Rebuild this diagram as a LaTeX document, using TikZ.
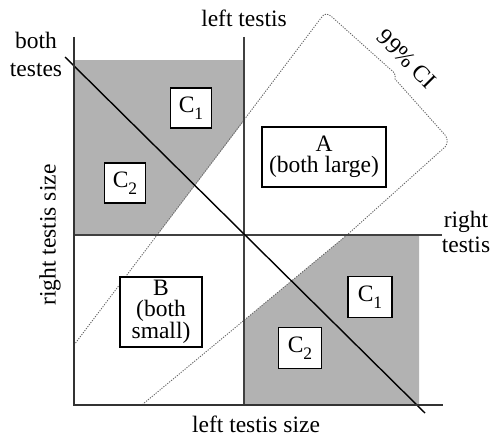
\documentclass[tikz,border=0pt]{standalone}
\usepackage{fontspec}
\setmainfont{Liberation Serif}
\newcommand{\subidx}[1]{\raisebox{-7pt}{\fontsize{17.5}{17.5}\selectfont #1}}
\begin{document}
\begin{tikzpicture}[x=1pt,y=-1pt,
  axis/.style={line width=2.2pt, draw=black!80},
  divider/.style={line width=1.6pt, draw=black!75},
  diag/.style={line width=1.4pt, draw=black},
  shaded/.style={fill=black!30},
  ci/.style={draw=black!60, line width=0.9pt, dash pattern=on 1.2pt off 1.3pt},
  region/.style={draw=black, line width=1.2pt, fill=white, inner sep=0pt,
    align=center, font=\fontsize{23.5}{21}\selectfont},
  lbl/.style={inner sep=0pt, align=center},
  lblfont/.style={font=\fontsize{23.5}{#1}\selectfont},
  lblfont/.default=27]
\useasboundingbox (0,0) rectangle (494,436);

% axis end points
\coordinate (origin) at (74,405);
\coordinate (ytop) at (74,37);
\coordinate (xend) at (443,405);
\coordinate (vtop) at (244,37);
\coordinate (vbot) at (244,405);
\coordinate (hleft) at (74,235);
\coordinate (hright) at (442,235);
\coordinate (dstart) at (65,57);
\coordinate (dend) at (425,413);

% shaded quadrants outside the confidence band
\fill[shaded] (74,60) -- (243,60) -- (243,122.2) -- (157.4,235) -- (74,235) -- cycle;
\fill[shaded] (244,320.4) -- (347,235) -- (419,235) -- (419,405) -- (244,405) -- cycle;

% 99% confidence band
\draw[ci] (74,345) -- (321,18) .. controls (324,13) and (328,13) .. (332,17)
  -- (390,69) .. controls (394,72) and (396,74) .. (395,79)
  -- (445,135) .. controls (448,139) and (448,143) .. (445,147)
  -- (347,235) -- (143,404);

% dividing lines and axes
\draw[divider] (vtop) -- (vbot);
\draw[divider] (hleft) -- (hright);
\draw[diag] (dstart) -- (dend);
\draw[axis] (ytop) -- (origin) -- (xend);

% region boxes
\node[region, minimum width=41pt, minimum height=40pt] (c1up) at (191,108) {C\subidx{1}};
\node[region, minimum width=41pt, minimum height=40pt] (c2up) at (125,183) {C\subidx{2}};
\node[region, minimum width=124pt, minimum height=60pt] (a) at (324,157) {A\\(both large)};
\node[region, minimum width=82pt, minimum height=70pt] (b) at (161,312) {B\\(both\\small)};
\node[region, minimum width=44pt, minimum height=41pt] (c1low) at (370,297) {C\subidx{1}};
\node[region, minimum width=43pt, minimum height=41pt] (c2low) at (300,348) {C\subidx{2}};

% labels
\node[lbl, lblfont] (lt) at (244,18) {left testis};
\node[lbl, lblfont=28] (bt) at (36,54) {both\\testes};
\node[lbl, lblfont=25] (rt) at (466,232) {right\\testis};
\node[lbl, lblfont, rotate=90] (rts) at (50,235) {right testis size};
\node[lbl, lblfont] (lts) at (256,424) {left testis size};
\node[lbl, lblfont, rotate=-45] (cil) at (407,59) {99\% CI};
\end{tikzpicture}
\end{document}
